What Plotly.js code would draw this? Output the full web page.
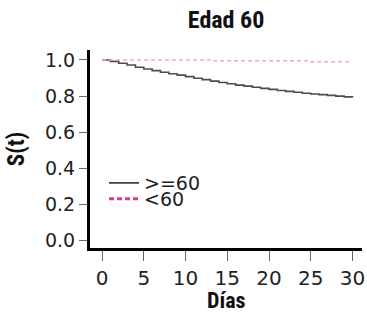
<!DOCTYPE html>
<html>
<head>
<meta charset="utf-8">
<script src="https://cdn.plot.ly/plotly-3.0.1.min.js"></script>
<style>html,body{margin:0;padding:0;background:#fff;}#chart{width:367px;height:312px;}</style>
</head>
<body>
<div id="chart"></div>
<script>
// Data
var dias = [0,1,2,3,4,5,6,7,8,9,10,11,12,13,14,15,16,17,18,19,20,21,22,23,24,25,26,27,28,29,30];
var survGe60 = [1.000,0.992,0.982,0.972,0.960,0.950,0.941,0.932,0.924,0.916,0.908,0.899,0.891,0.883,0.875,0.868,0.861,0.855,0.849,0.843,0.837,0.831,0.826,0.821,0.816,0.812,0.808,0.804,0.800,0.796,0.792];
var diasLt60 = [0,13,25,30];
var survLt60 = [1.000,0.995,0.990,0.990];
var xTicks = [0,5,10,15,20,25,30];
var yTicks = [0,0.2,0.4,0.6,0.8,1.0];
var yTickText = ['0.0','0.2','0.4','0.6','0.8','1.0'];
var seriesNames = ['>=60','&lt;60'];

var tickFont = '"DejaVu Sans", Lato, sans-serif';
var titleFont = '"Liberation Sans Narrow", "Roboto Condensed", "DejaVu Sans Condensed", sans-serif';

var traces = [
  {x: dias, y: survGe60, mode: 'lines', line: {shape: 'hv', color: '#4d4d4d', width: 1.6}, showlegend: false, hoverinfo: 'skip'},
  {x: diasLt60, y: survLt60, mode: 'lines', line: {shape: 'hv', color: '#f5a9bb', width: 1.5, dash: '4px,3px'}, showlegend: false, hoverinfo: 'skip'},
  {x: [null], y: [null], mode: 'lines', name: seriesNames[0], line: {color: '#222', width: 1.5}, legend: 'legend', showlegend: true},
  {x: [null], y: [null], mode: 'lines', name: seriesNames[1], line: {color: '#e8338a', width: 3, dash: '5px,3px'}, legend: 'legend2', showlegend: true}
];

var legendCommon = {
  xanchor: 'left', yanchor: 'middle', bgcolor: 'rgba(0,0,0,0)', borderwidth: 0,
  font: {family: tickFont, size: 19, color: '#222'}
};

var layout = {
  width: 367, height: 312,
  margin: {l: 90, r: 5, t: 50, b: 64},
  paper_bgcolor: '#fff', plot_bgcolor: '#fff',
  title: {text: 'Edad 60', font: {family: titleFont, size: 24, weight: 'bold', color: '#111'},
          xref: 'container', yref: 'container', x: 0.616, xanchor: 'center', y: 0.936, yanchor: 'middle'},
  xaxis: {
    range: [-1.44, 31.14], tickvals: xTicks, ticks: 'outside', ticklen: 10, tickwidth: 1, tickcolor: '#666',
    showline: true, linewidth: 3, linecolor: '#000', showgrid: false, zeroline: false,
    tickfont: {family: tickFont, size: 20, color: '#222'}
  },
  yaxis: {
    range: [-0.04, 1.055], tickvals: yTicks, ticktext: yTickText, ticks: 'outside', ticklen: 8, tickwidth: 1, tickcolor: '#666',
    showline: true, linewidth: 3, linecolor: '#000', showgrid: false, zeroline: false,
    tickfont: {family: tickFont, size: 19, color: '#222'},
    title: {text: 'S(t)', font: {family: titleFont, size: 23, weight: 'bold', color: '#111'}, standoff: 14}
  },
  annotations: [{
    text: 'Días', xref: 'paper', yref: 'paper', x: 0.5, xanchor: 'center', y: -0.265, yanchor: 'middle',
    showarrow: false, font: {family: titleFont, size: 22, weight: 'bold', color: '#111'}
  }],
  legend: Object.assign({x: 0.0515, y: 0.328}, legendCommon),
  legend2: Object.assign({x: 0.0515, y: 0.2475}, legendCommon)
};

Plotly.newPlot('chart', traces, layout, {staticPlot: true, displayModeBar: false});
</script>
</body>
</html>
